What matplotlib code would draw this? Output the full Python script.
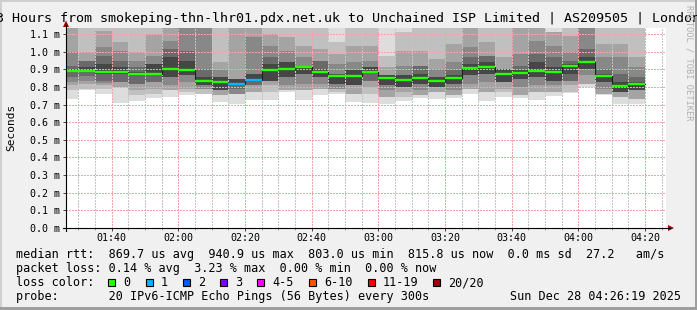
import matplotlib
matplotlib.use("Agg")
import matplotlib.pyplot as plt
from matplotlib.patches import Rectangle, Polygon
from matplotlib.lines import Line2D

# ---------------- data ----------------
start_time = "01:26:19"
end_time = "04:26:19"
step_end = ["01:30", "01:35", "01:40", "01:45", "01:50", "01:55", "02:00",
            "02:05", "02:10", "02:15", "02:20", "02:25", "02:30", "02:35",
            "02:40", "02:45", "02:50", "02:55", "03:00", "03:05", "03:10",
            "03:15", "03:20", "03:25", "03:30", "03:35", "03:40", "03:45",
            "03:50", "03:55", "04:00", "04:05", "04:10", "04:15", "04:20"]

median_ms = [0.891, 0.891, 0.884, 0.884, 0.874, 0.874, 0.902, 0.897, 0.835, 0.825,
             0.819, 0.840, 0.893, 0.902, 0.910, 0.887, 0.859, 0.859, 0.887, 0.848,
             0.840, 0.852, 0.836, 0.852, 0.909, 0.915, 0.872, 0.878, 0.892, 0.887,
             0.920, 0.941, 0.863, 0.803, 0.816]
loss_pings = [0, 0, 0, 0, 0, 0, 0, 0, 0, 0, 1, 1, 0, 0, 0, 0, 0, 0, 0, 0,
              0, 0, 0, 0, 0, 0, 0, 0, 0, 0, 0, 0, 0, 0, 0]

# smoke band edges (ms); level 1 = outermost pings, level 6 = innermost
smoke_lo1 = [0.733, 0.780, 0.761, 0.711, 0.720, 0.739, 0.742, 0.752, 0.761, 0.714, 0.705, 0.724,
             0.727, 0.771, 0.724, 0.752, 0.761, 0.714, 0.709, 0.705, 0.720, 0.739, 0.733, 0.739,
             0.757, 0.720, 0.742, 0.739, 0.724, 0.746, 0.768, 0.799, 0.752, 0.705, 0.705]
smoke_lo2 = [0.780, 0.789, 0.789, 0.799, 0.752, 0.761, 0.780, 0.771, 0.761, 0.752, 0.761, 0.771,
             0.771, 0.780, 0.780, 0.789, 0.771, 0.761, 0.761, 0.742, 0.742, 0.752, 0.771, 0.752,
             0.789, 0.771, 0.771, 0.752, 0.771, 0.771, 0.771, 0.818, 0.761, 0.742, 0.733]
smoke_lo3 = [0.808, 0.818, 0.808, 0.799, 0.780, 0.789, 0.780, 0.789, 0.789, 0.752, 0.761, 0.771,
             0.808, 0.780, 0.780, 0.789, 0.789, 0.761, 0.799, 0.742, 0.771, 0.752, 0.771, 0.752,
             0.789, 0.771, 0.789, 0.752, 0.771, 0.771, 0.808, 0.818, 0.761, 0.742, 0.733]
smoke_lo4 = [0.827, 0.836, 0.821, 0.827, 0.818, 0.827, 0.808, 0.827, 0.789, 0.780, 0.761, 0.808,
             0.836, 0.808, 0.818, 0.818, 0.789, 0.808, 0.836, 0.780, 0.799, 0.780, 0.799, 0.780,
             0.818, 0.827, 0.827, 0.799, 0.808, 0.808, 0.836, 0.865, 0.789, 0.771, 0.780]
smoke_lo5 = [0.855, 0.859, 0.836, 0.827, 0.818, 0.827, 0.855, 0.865, 0.808, 0.780, 0.786, 0.808,
             0.836, 0.855, 0.874, 0.855, 0.818, 0.808, 0.836, 0.808, 0.799, 0.818, 0.799, 0.818,
             0.865, 0.874, 0.827, 0.846, 0.855, 0.836, 0.836, 0.902, 0.827, 0.771, 0.780]
smoke_lo6 = [0.884, 0.884, 0.874, 0.874, 0.865, 0.865, 0.855, 0.865, 0.808, 0.780, 0.808, 0.833,
             0.836, 0.855, 0.874, 0.855, 0.818, 0.808, 0.878, 0.808, 0.799, 0.818, 0.799, 0.818,
             0.865, 0.874, 0.827, 0.846, 0.855, 0.836, 0.874, 0.902, 0.827, 0.771, 0.780]
smoke_hi6 = [0.902, 0.912, 0.930, 0.912, 0.884, 0.930, 0.968, 0.949, 0.855, 0.855, 0.846, 0.874,
             0.930, 0.940, 0.921, 0.902, 0.874, 0.893, 0.912, 0.865, 0.865, 0.874, 0.855, 0.865,
             0.930, 0.940, 0.902, 0.893, 0.940, 0.912, 0.930, 0.968, 0.874, 0.827, 0.827]
smoke_hi5 = [0.921, 0.949, 0.977, 0.949, 0.912, 0.930, 1.015, 1.006, 0.902, 0.855, 0.846, 0.874,
             0.968, 0.940, 0.921, 0.949, 0.874, 0.893, 0.912, 0.865, 0.865, 0.921, 0.855, 0.893,
             0.968, 0.977, 0.902, 0.921, 0.987, 0.968, 0.949, 1.015, 0.902, 0.874, 0.855]
smoke_hi4 = [1.000, 0.949, 1.024, 1.006, 0.949, 0.977, 1.062, 1.200, 1.200, 0.893, 0.846, 1.081,
             1.034, 1.006, 0.968, 0.949, 0.930, 0.940, 0.949, 0.865, 0.921, 0.921, 0.902, 0.940,
             1.024, 0.977, 0.902, 0.987, 1.062, 1.034, 0.996, 1.200, 0.968, 0.968, 0.912]
smoke_hi3 = [1.200, 0.996, 1.115, 1.053, 0.996, 1.100, 1.200, 1.200, 1.200, 0.940, 1.200, 1.200,
             1.100, 1.081, 1.034, 1.015, 0.987, 1.034, 1.034, 0.912, 1.006, 1.006, 0.959, 1.043,
             1.200, 1.053, 0.968, 1.200, 1.200, 1.109, 1.090, 1.200, 1.043, 1.043, 0.968]
smoke_hi2 = [1.200, 1.200, 1.200, 1.200, 1.200, 1.200, 1.200, 1.200, 1.200, 1.200, 1.200, 1.200,
             1.200, 1.200, 1.200, 1.200, 1.053, 1.200, 1.200, 0.977, 1.109, 1.200, 1.200, 1.200,
             1.200, 1.200, 1.200, 1.200, 1.200, 1.109, 1.200, 1.200, 1.200, 1.200, 1.200]
smoke_hi1 = [1.200, 1.200, 1.200, 1.200, 1.200, 1.200, 1.200, 1.200, 1.200, 1.200, 1.200, 1.200,
             1.200, 1.200, 1.200, 1.200, 1.200, 1.200, 1.200, 1.200, 1.200, 1.200, 1.200, 1.200,
             1.200, 1.200, 1.200, 1.200, 1.200, 1.200, 1.200, 1.200, 1.200, 1.200, 1.200]

loss_labels = ["0", "1", "2", "3", "4-5", "6-10", "11-19", "20/20"]
loss_colors = ["#26ff00", "#00b8ff", "#0059ff", "#7e00ff", "#ff00ff", "#ff5500", "#ff0000", "#a10000"]
loss_upper = [0, 1, 2, 3, 5, 10, 19, 20]

x_tick_labels = ["01:40", "02:00", "02:20", "02:40", "03:00", "03:20", "03:40", "04:00", "04:20"]
y_tick_values = [0.0, 0.1, 0.2, 0.3, 0.4, 0.5, 0.6, 0.7, 0.8, 0.9, 1.0, 1.1]

title = "3 Hours from smokeping-thn-lhr01.pdx.net.uk to Unchained ISP Limited | AS209505 | London"
stat_line1 = "median rtt:  869.7 us avg  940.9 us max  803.0 us min  815.8 us now  0.0 ms sd  27.2   am/s"
stat_line2 = "packet loss: 0.14 % avg  3.23 % max  0.00 % min  0.00 % now"
stat_line3 = "loss color:"
stat_line4 = "probe:       20 IPv6-ICMP Echo Pings (56 Bytes) every 300s"
date_text = "Sun Dec 28 04:26:19 2025"
side_text = "RRDTOOL / TOBI OETIKER"

# ---------------- helpers ----------------
def to_min(s):
    parts = [int(p) for p in s.split(":")]
    m = parts[0] * 60 + parts[1]
    if len(parts) > 2:
        m += parts[2] / 60.0
    return m

W, H = 697, 310
MONO = "DejaVu Sans Mono"

def fx(x):
    return x / W

def fy(y):
    return 1 - y / H

t0 = to_min(start_time)
t1 = to_min(end_time)
edges = [t0] + [to_min(s) for s in step_end]

fig = plt.figure(figsize=(W / 100, H / 100), dpi=100)
fig.patch.set_facecolor("#f0f0f0")

# 3D frame
fig.add_artist(Rectangle((0, fy(2)), 1, 2 / H, transform=fig.transFigure, color="#cfcfcf", lw=0))
fig.add_artist(Rectangle((0, 0), 2 / W, 1, transform=fig.transFigure, color="#cfcfcf", lw=0))
fig.add_artist(Rectangle((0, 0), 1, 3 / H, transform=fig.transFigure, color="#9e9e9e", lw=0))
fig.add_artist(Rectangle((fx(W - 2), 0), 2 / W, 1, transform=fig.transFigure, color="#9e9e9e", lw=0))

ax_l, ax_r, ax_t, ax_b = 66, 666, 28, 228
ax = fig.add_axes([fx(ax_l), fy(ax_b), (ax_r - ax_l) / W, (ax_b - ax_t) / H])
ax.set_facecolor("white")
ax.set_xlim(t0, t1)
ymax = (ax_b - ax_t) / 176.4
ax.set_ylim(0, ymax)
for s in ax.spines.values():
    s.set_visible(False)

# smoke
los = [smoke_lo1, smoke_lo2, smoke_lo3, smoke_lo4, smoke_lo5, smoke_lo6]
his = [smoke_hi1, smoke_hi2, smoke_hi3, smoke_hi4, smoke_hi5, smoke_hi6]
grays = ["#dddddd", "#c0c0c0", "#a4a4a4", "#888888", "#6a6a6a", "#464646"]
for lo, hi, c in zip(los, his, grays):
    ax.fill_between(edges, lo + [lo[-1]], hi + [hi[-1]], step="post", color=c,
                    linewidth=0, zorder=1)

# grid (dotted, drawn over the smoke like rrdtool)
minor_pos = [m for m in range(90, int(t1) + 1, 5) if m % 20 != 0]
major_pos = [m for m in range(100, int(t1) + 1, 20)]
DOT = (0, (2.0, 2.0))
for m in minor_pos:
    ax.axvline(m, color="#c4c4c4", lw=0.72, linestyle=DOT, antialiased=False, zorder=2)
for m in major_pos:
    ax.axvline(m, color="#f4a4a4", lw=0.72, linestyle=DOT, antialiased=False, zorder=2)
for v in y_tick_values[1:]:
    ax.axhline(v, color="#f4a4a4", lw=0.72, linestyle=DOT, antialiased=False, zorder=2)

# median
ax.step(edges, median_ms + [median_ms[-1]], where="post", color="#202020", lw=0.8, zorder=3)
def loss_color(n):
    for up, c in zip(loss_upper, loss_colors):
        if n <= up:
            return c
    return loss_colors[-1]
med_cols = [loss_color(n) for n in loss_pings]
ax.hlines(median_ms, edges[:-1], edges[1:], colors=med_cols, lw=1.7, zorder=4)

# ticks
ax.set_xticks([to_min(s) for s in x_tick_labels])
ax.set_xticklabels(x_tick_labels, fontfamily=MONO, fontsize=7.2)
ax.set_xticks(minor_pos, minor=True)
ax.set_yticks(y_tick_values)
ax.set_yticklabels(["%.1f m" % v for v in y_tick_values], fontfamily=MONO, fontsize=7.2)
ax.tick_params(axis="x", which="major", direction="out", length=2.5, width=0.7, pad=1.2, color="#444444")
ax.tick_params(axis="x", which="minor", direction="out", length=1.2, width=0.7, color="#999999")
ax.tick_params(axis="y", which="major", direction="out", length=2.2, width=0.7, pad=2.2, color="#444444")

# axis lines and arrows
fig.add_artist(Line2D([fx(63), fx(670)], [fy(ax_b), fy(ax_b)], transform=fig.transFigure,
                      color="black", lw=0.8))
fig.add_artist(Line2D([fx(ax_l), fx(ax_l)], [fy(231), fy(25)], transform=fig.transFigure,
                      color="black", lw=0.8))
fig.add_artist(Polygon([(fx(668), fy(ax_b - 3)), (fx(674), fy(ax_b)), (fx(668), fy(ax_b + 3))],
                       closed=True, transform=fig.transFigure, color="#a00000", lw=0))
fig.add_artist(Polygon([(fx(63), fy(27)), (fx(ax_l), fy(20.5)), (fx(69), fy(27))],
                       closed=True, transform=fig.transFigure, color="#a00000", lw=0))

# texts
fig.text(fx(348.5), fy(22), title, ha="center", va="baseline", fontfamily=MONO, fontsize=9.6)
fig.text(fx(11), fy(127), "Seconds", rotation=90, ha="center", va="center",
         fontfamily=MONO, fontsize=8)
fig.text(fx(688.5), fy(63), side_text, rotation=270, ha="center", va="center",
         fontfamily=MONO, fontsize=6.3, color="#b0b0b0")

LF = 8.5
base = [258.3, 272.3, 286.3, 300.3]
fig.text(fx(16), fy(base[0]), stat_line1, ha="left", va="baseline", fontfamily=MONO, fontsize=LF)
fig.text(fx(16), fy(base[1]), stat_line2, ha="left", va="baseline", fontfamily=MONO, fontsize=LF)
fig.text(fx(16), fy(base[2]), stat_line3, ha="left", va="baseline", fontfamily=MONO, fontsize=LF)
fig.text(fx(16), fy(base[3]), stat_line4, ha="left", va="baseline", fontfamily=MONO, fontsize=LF)
fig.text(fx(681), fy(base[3]), date_text, ha="right", va="baseline", fontfamily=MONO, fontsize=LF)

cw = 7.1
bx = 108.3
for lab, c in zip(loss_labels, loss_colors):
    fig.add_artist(Rectangle((fx(bx), fy(285.7)), 7 / W, 7 / H, transform=fig.transFigure,
                             facecolor=c, edgecolor="black", lw=0.8))
    lx = bx + 15
    fig.text(fx(lx), fy(base[2]), lab, ha="left", va="baseline", fontfamily=MONO, fontsize=LF)
    bx = lx + len(lab) * cw + 15.2

fig.savefig("out.png", dpi=100, facecolor=fig.get_facecolor())
